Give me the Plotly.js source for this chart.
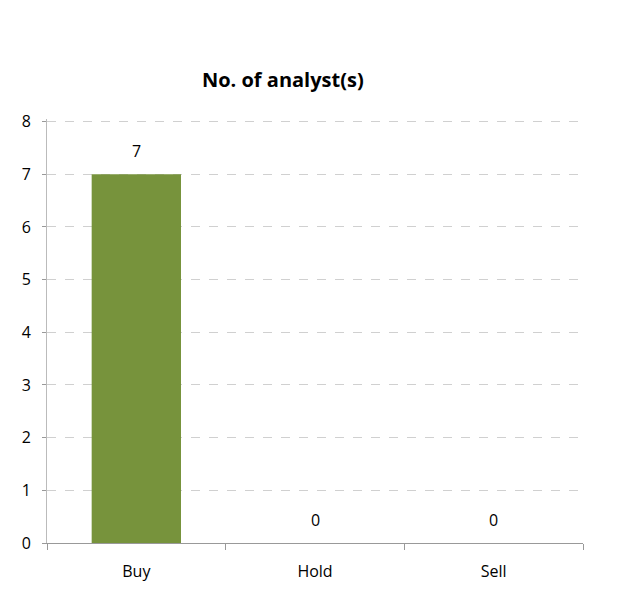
<!DOCTYPE html>
<html>
<head>
<meta charset="utf-8">
<script src="https://cdn.plot.ly/plotly-3.0.1.min.js"></script>
<style>
  html, body { margin: 0; padding: 0; background: #fff; }
  #chart { width: 617px; height: 592px; }
</style>
</head>
<body>
<div id="chart"></div>
<script>
// ratings and how many analysts gave each
const ratings = ['Buy', 'Hold', 'Sell'];
const analystCounts = [7, 0, 0];
const yTicks = [0, 1, 2, 3, 4, 5, 6, 7, 8];

const FONT = 'Open Sans, Liberation Sans, sans-serif';

const trace = {
    type: 'bar',
    x: ratings,
    y: analystCounts,
    width: 0.5,
    marker: { color: '#77933C' },
    hoverinfo: 'x+y'
};

// value labels sitting a little above each bar
const valueLabels = ratings.map((r, i) => ({
    x: r,
    y: analystCounts[i],
    xref: 'x',
    yref: 'y',
    text: String(analystCounts[i]),
    showarrow: false,
    yanchor: 'bottom',
    yshift: 10,
    font: { family: FONT, size: 16, color: '#000' }
}));

const layout = {
    width: 617,
    height: 592,
    margin: { l: 47, r: 34, t: 119, b: 49 },
    paper_bgcolor: '#fff',
    plot_bgcolor: '#fff',
    showlegend: false,
    font: { family: FONT, size: 16, color: '#000' },
    title: {
        text: '<b>No. of analyst(s)</b>',
        font: { family: FONT, size: 20, color: '#000' },
        x: 0.44,
        xref: 'paper',
        xanchor: 'center',
        y: 0.877,
        yref: 'container'
    },
    annotations: valueLabels,
    xaxis: {
        type: 'category',
        tickson: 'boundaries',
        ticks: 'outside',
        ticklen: 6,
        tickcolor: '#999',
        showline: true,
        linecolor: '#999',
        showgrid: false,
        zeroline: false,
        ticklabelstandoff: 14,
        tickfont: { family: FONT, size: 16, color: '#000' }
    },
    yaxis: {
        range: [0, 8.05],
        tickvals: yTicks,
        ticks: 'outside',
        ticklen: 4,
        tickcolor: '#999',
        showline: true,
        linecolor: '#bbb',
        showgrid: true,
        gridcolor: '#d0d0d0',
        griddash: 'dash',
        zeroline: false,
        tickfont: { family: FONT, size: 16, color: '#000' },
        ticklabelstandoff: 8
    }
};

Plotly.newPlot('chart', [trace], layout, { displayModeBar: false, staticPlot: true });
</script>
</body>
</html>
